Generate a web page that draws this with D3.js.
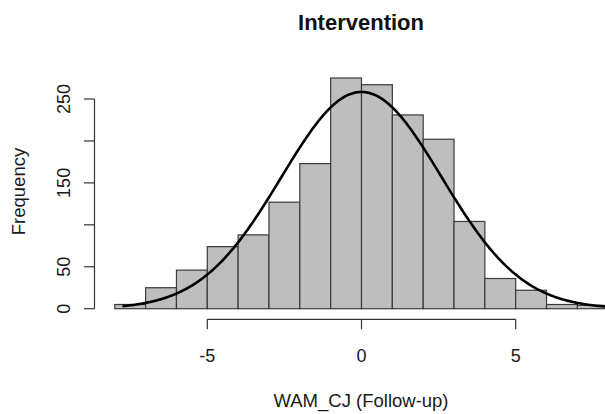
<!DOCTYPE html>
<html>
<head>
<meta charset="utf-8">
<script src="https://cdnjs.cloudflare.com/ajax/libs/d3/7.8.5/d3.min.js"></script>
<style>
  html, body { margin: 0; padding: 0; background: #ffffff; }
  svg { display: block; font-family: "Liberation Sans", Arial, sans-serif; }
</style>
</head>
<body>
<svg id="chart" width="605" height="414"></svg>
<script>
// ---- data ----
const binStarts = [-8, -7, -6, -5, -4, -3, -2, -1, 0, 1, 2, 3, 4, 5, 6, 7];
const binWidth = 1;
const counts = [5, 25, 46, 74, 88, 127, 173, 275, 267, 231, 202, 104, 36, 22, 5, 4];
const xTicks = [-5, 0, 5];
const yTicks = [0, 50, 100, 150, 200, 250];
const yTickLabels = ["0", "50", "", "150", "", "250"];
const curveMean = 0;
const curveSd = 2.6;
const curveRange = [-7.75, 8];
const title = "Intervention";
const xLabel = "WAM_CJ (Follow-up)";
const yLabel = "Frequency";

// ---- layout ----
const svg = d3.select("#chart");
const x = d3.scaleLinear().domain([-5, 5]).range([207.3, 515.7]);
const y = d3.scaleLinear().domain([0, 250]).range([308.7, 99]);

const total = d3.sum(counts);

// bars
svg.append("g")
  .selectAll("rect")
  .data(binStarts.map((s, i) => ({ s, c: counts[i] })))
  .join("rect")
  .attr("x", d => x(d.s))
  .attr("y", d => y(d.c))
  .attr("width", d => x(d.s + binWidth) - x(d.s))
  .attr("height", d => y(0) - y(d.c))
  .attr("fill", "#bebebe")
  .attr("stroke", "#3a3a3a")
  .attr("stroke-width", 1.2);

// normal density curve (scaled to counts)
const dens = v => total * binWidth / (curveSd * Math.sqrt(2 * Math.PI)) *
  Math.exp(-((v - curveMean) ** 2) / (2 * curveSd * curveSd));
const curvePts = d3.range(curveRange[0], curveRange[1] + 0.001, 0.05).map(v => [v, dens(v)]);
svg.append("path")
  .datum(curvePts)
  .attr("fill", "none")
  .attr("stroke", "#000")
  .attr("stroke-width", 2.6)
  .attr("d", d3.line().x(d => x(d[0])).y(d => y(d[1])));

// y axis
const yAxis = svg.append("g").attr("stroke", "#333").attr("stroke-width", 1.2);
yAxis.append("line")
  .attr("x1", 94.5).attr("x2", 94.5)
  .attr("y1", y(yTicks[0])).attr("y2", y(yTicks[yTicks.length - 1]));
yAxis.selectAll("line.tick").data(yTicks).join("line").attr("class", "tick")
  .attr("x1", 84).attr("x2", 94.5)
  .attr("y1", d => y(d)).attr("y2", d => y(d));
svg.append("g").selectAll("text").data(yTicks).join("text")
  .attr("transform", d => `translate(69.5,${y(d)}) rotate(-90)`)
  .attr("text-anchor", "middle")
  .attr("font-size", 18)
  .attr("fill", "#1a1a1a")
  .text((d, i) => yTickLabels[i]);

// x axis
const xAxisY = 319.3;
const xAxis = svg.append("g").attr("stroke", "#333").attr("stroke-width", 1.2);
xAxis.append("line")
  .attr("x1", x(xTicks[0])).attr("x2", x(xTicks[xTicks.length - 1]))
  .attr("y1", xAxisY).attr("y2", xAxisY);
xAxis.selectAll("line.tick").data(xTicks).join("line").attr("class", "tick")
  .attr("x1", d => x(d)).attr("x2", d => x(d))
  .attr("y1", xAxisY).attr("y2", xAxisY + 10);
svg.append("g").selectAll("text").data(xTicks).join("text")
  .attr("x", d => x(d)).attr("y", 362)
  .attr("text-anchor", "middle")
  .attr("font-size", 18)
  .attr("fill", "#1a1a1a")
  .text(d => d);

// labels
svg.append("text")
  .attr("x", 361).attr("y", 29.5)
  .attr("text-anchor", "middle")
  .attr("font-size", 22).attr("font-weight", "bold")
  .attr("fill", "#111")
  .text(title);
svg.append("text")
  .attr("x", 361).attr("y", 407)
  .attr("text-anchor", "middle")
  .attr("font-size", 18.5)
  .attr("fill", "#1a1a1a")
  .text(xLabel);
svg.append("text")
  .attr("transform", "translate(25,191.5) rotate(-90)")
  .attr("text-anchor", "middle")
  .attr("font-size", 18.5)
  .attr("fill", "#1a1a1a")
  .text(yLabel);
</script>
</body>
</html>
